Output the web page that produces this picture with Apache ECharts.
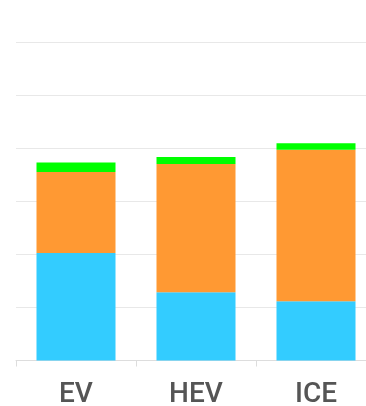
<!DOCTYPE html>
<html><head><meta charset="utf-8">
<script src="https://cdn.jsdelivr.net/npm/echarts@6/dist/echarts.min.js"></script>
<style>html,body{margin:0;padding:0;background:#fff;overflow:hidden;width:366px;height:406px}#c{width:376px;height:406px}</style>
</head><body><div id="c"></div>
<script>
const categories = ['EV', 'HEV', 'ICE'];
const blueValues = [20.3, 12.9, 11.2];
const orangeValues = [15.3, 24.2, 28.6];
const greenValues = [1.8, 1.3, 1.2];

const chart = echarts.init(document.getElementById('c'), null, {renderer: 'canvas'});
chart.setOption({
  animation: false,
  grid: {left: 16, top: 42.7, right: 0, bottom: 45.5, containLabel: false, outerBoundsMode: 'none'},
  xAxis: {
    type: 'category', data: categories,
    axisLine: {lineStyle: {color: '#dddddd', width: 1}},
    axisTick: {show: true, length: 6, lineStyle: {color: '#dddddd'}},
    axisLabel: {color: '#555555', fontSize: 28, fontFamily: 'Roboto', fontWeight: 500, margin: 20}
  },
  yAxis: {
    type: 'value', min: 0, max: 60, interval: 10,
    axisLabel: {show: false}, axisLine: {show: false}, axisTick: {show: false},
    splitLine: {lineStyle: {color: '#e8e8e8', width: 1}}
  },
  series: [
    {type: 'bar', stack: 's', data: blueValues, barWidth: 79, itemStyle: {color: '#33ccff'}},
    {type: 'bar', stack: 's', data: orangeValues, barWidth: 79, itemStyle: {color: '#ff9933'}},
    {type: 'bar', stack: 's', data: greenValues, barWidth: 79, itemStyle: {color: '#00ff00'}}
  ]
});
</script></body></html>
